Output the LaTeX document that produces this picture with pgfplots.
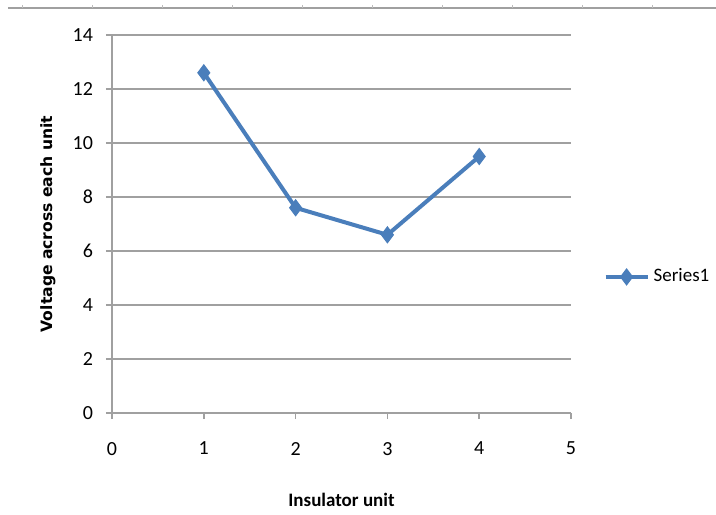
\documentclass[border=0pt]{standalone}
\usepackage{pgfplots}
\pgfplotsset{compat=1.18}
\usepackage{fontspec}
\setmainfont{Carlito}
\newfontfamily\dejavu{DejaVu Sans}
\definecolor{serieblue}{RGB}{74,126,187}
\definecolor{gridgray}{RGB}{160,160,160}
\begin{document}
\begin{tikzpicture}
\useasboundingbox (-56pt,-50.5pt) rectangle (302pt,206.5pt);
\draw[gridgray, line width=0.8pt] (-52pt,202.5pt) -- (302pt,202.5pt);
\foreach \k in {0,...,9} {
  \draw[gridgray!70, line width=0.4pt] ({-45pt+\k*35pt},202.5pt) -- ({-45pt+\k*35pt},204pt);
}
\begin{axis}[
  at={(0,0)}, anchor=origin,
  scale only axis,
  width=229.5pt, height=189pt,
  xmin=0, xmax=5, ymin=0, ymax=14,
  xtick={0,1,2,3,4,5},
  ytick={0,2,4,6,8,10,12,14},
  axis x line=bottom, axis y line=left,
  axis line style={gridgray, line width=0.8pt, -},
  tick align=outside,
  major tick length=3pt,
  tick style={gridgray, line width=0.8pt},
  ymajorgrids,
  grid style={gridgray, line width=0.8pt},
  /pgf/number format/assume math mode=true,
  ticklabel style={font=\fontsize{10}{12}\selectfont, text=black},
  xticklabel style={yshift=-8pt},
  yticklabel style={xshift=-3pt},
  xlabel={\textbf{Insulator unit}},
  xlabel style={font=\fontsize{9.5}{11}\selectfont, at={(0.5,-43.5pt)}, anchor=center},
  ylabel={\dejavu\bfseries Voltage across each unit},
  ylabel style={font=\fontsize{7.8}{9}\selectfont, at={(-32pt,0.5)}, anchor=center, rotate=0},
  legend style={draw=none, fill=none, at={(1.07,0.36)}, anchor=west,
    font=\fontsize{9.5}{11}\selectfont, inner sep=0pt},
  legend cell align=left,
  legend image code/.code={%
    \draw[mark repeat=2, mark phase=2] plot coordinates {(0cm,0cm) (0.37cm,0cm) (0.74cm,0cm)};},
]
\addplot[serieblue, line width=2pt, mark=diamond*, mark size=4pt,
  mark options={solid, fill=serieblue, line width=0.5pt}]
  coordinates {(1,12.6) (2,7.6) (3,6.6) (4,9.5)};
\addlegendentry{Series1}
\end{axis}
\end{tikzpicture}
\end{document}
